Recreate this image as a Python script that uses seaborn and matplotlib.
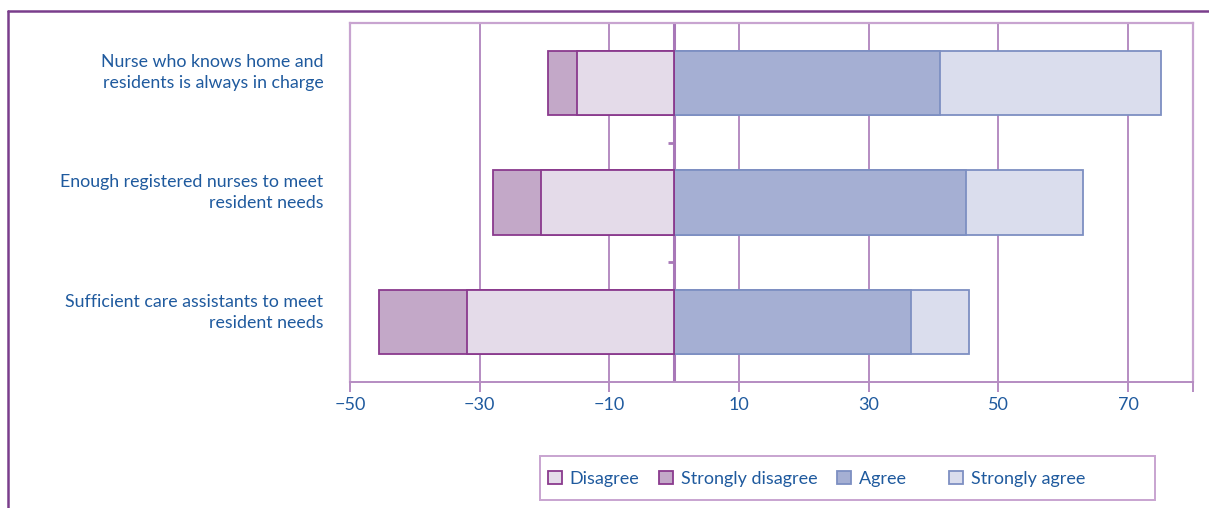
import numpy as np
import pandas as pd
import seaborn as sns
import matplotlib.pyplot as plt
import matplotlib.transforms as mtransforms
from matplotlib.patches import Rectangle
from matplotlib.lines import Line2D

# Data (percent of respondents)
statements = [
    "Nurse who knows home and\nresidents is always in charge",
    "Enough registered nurses to meet\nresident needs",
    "Sufficient care assistants to meet\nresident needs",
]
disagree = [15.0, 20.5, 32.0]
strongly_disagree = [4.5, 7.5, 13.5]
agree = [41.0, 45.0, 36.5]
strongly_agree = [34.0, 18.0, 9.0]

x_ticks = [-50, -30, -10, 10, 30, 50, 70, 80]
x_labels = ["\u221250", "\u221230", "\u221210", "10", "30", "50", "70", ""]

legend_labels = ["Disagree", "Strongly disagree", "Agree", "Strongly agree"]

# Colours
c_dis = "#E4DBE9"
c_sdis = "#C3A8C8"
c_agree = "#A5AFD3"
c_sagree = "#DADDED"
edge_neg = "#8A3A8E"
edge_pos = "#7D8FC2"
text_blue = "#1F5A9E"
grid_col = "#B68CC2"
frame_col = "#7A3E8C"

sns.set_style("white")
plt.rcParams["font.family"] = ["Lato", "DejaVu Sans"]

df = pd.DataFrame({
    "statement": statements,
    "neg_total": -(np.array(disagree) + np.array(strongly_disagree)),
    "neg_inner": -np.array(disagree),
    "pos_total": np.array(agree) + np.array(strongly_agree),
    "pos_inner": np.array(agree),
})

fig = plt.figure(figsize=(12.09, 5.08), dpi=100)
ax = fig.add_axes([350 / 1209, 1 - 382 / 508, (1193 - 350) / 1209, (382 - 23) / 508])

bar_kw = dict(y="statement", orient="h", errorbar=None, width=0.54,
              linewidth=1.3, ax=ax, zorder=3, saturation=1)
sns.barplot(data=df, x="pos_total", color=c_sagree, edgecolor=edge_pos, **bar_kw)
sns.barplot(data=df, x="pos_inner", color=c_agree, edgecolor=edge_pos, **bar_kw)
sns.barplot(data=df, x="neg_total", color=c_sdis, edgecolor=edge_neg, **bar_kw)
sns.barplot(data=df, x="neg_inner", color=c_dis, edgecolor=edge_neg, **bar_kw)

ax.set_xlim(-50, 80)
ax.set_ylim(2.5, -0.5)

# grid and zero line
for xv in [-50, -30, -10, 10, 30, 50, 70]:
    ax.axvline(xv, color=grid_col, lw=1.4, zorder=1)
ax.axvline(0, color="#A878B8", lw=2.2, zorder=1)
ax.hlines([0.5, 1.5], -0.9, 0, color="#A878B8", lw=2, zorder=2)

ax.set_xticks(x_ticks)
ax.set_xticklabels(x_labels)
ax.tick_params(axis="x", length=7, width=1.4, color=grid_col, labelcolor=text_blue,
               labelsize=13, pad=4, bottom=True)
ax.set_yticks(range(len(statements)))
ax.set_yticklabels(statements, color=text_blue, fontsize=12.8, linespacing=1.38)
ax.tick_params(axis="y", length=0, pad=19)
# labels sit a little above the bar centres
shift = mtransforms.ScaledTranslation(0, 14 / 100, fig.dpi_scale_trans)
for lab in ax.get_yticklabels():
    lab.set_transform(lab.get_transform() + shift)
ax.set_xlabel("")
ax.set_ylabel("")

for side in ["left", "right", "top"]:
    ax.spines[side].set_color("#C8A4D0")
    ax.spines[side].set_linewidth(1.6)
ax.spines["bottom"].set_color(grid_col)
ax.spines["bottom"].set_linewidth(1.4)

# legend
handles = [
    Rectangle((0, 0), 1, 1, facecolor=c_dis, edgecolor=edge_neg, lw=1.3),
    Rectangle((0, 0), 1, 1, facecolor=c_sdis, edgecolor=edge_neg, lw=1.3),
    Rectangle((0, 0), 1, 1, facecolor=c_agree, edgecolor=edge_pos, lw=1.3),
    Rectangle((0, 0), 1, 1, facecolor=c_sagree, edgecolor=edge_pos, lw=1.3),
]
labels = list(legend_labels)
labels[2] = labels[2] + "     "
leg = fig.legend(handles, labels, loc="center left", bbox_to_anchor=(548 / 1209, 1 - 479 / 508),
                 ncol=4, frameon=False, fontsize=13,
                 handlelength=0.75, handleheight=0.75, handletextpad=0.45,
                 columnspacing=1.1, borderpad=0, borderaxespad=0)
for t in leg.get_texts():
    t.set_color(text_blue)
fig.add_artist(Rectangle((540 / 1209, 1 - 500 / 508), 615 / 1209, 44 / 508,
                         transform=fig.transFigure, facecolor="none",
                         edgecolor="#C8A4D0", lw=1.4))

# outer frame lines
fig.add_artist(Line2D([7.5 / 1209, 1], [1 - 11 / 508, 1 - 11 / 508], color=frame_col, lw=1.8))
fig.add_artist(Line2D([7.5 / 1209, 7.5 / 1209], [0, 1 - 11 / 508], color=frame_col, lw=1.8))

fig.savefig("out.png", dpi=100)
